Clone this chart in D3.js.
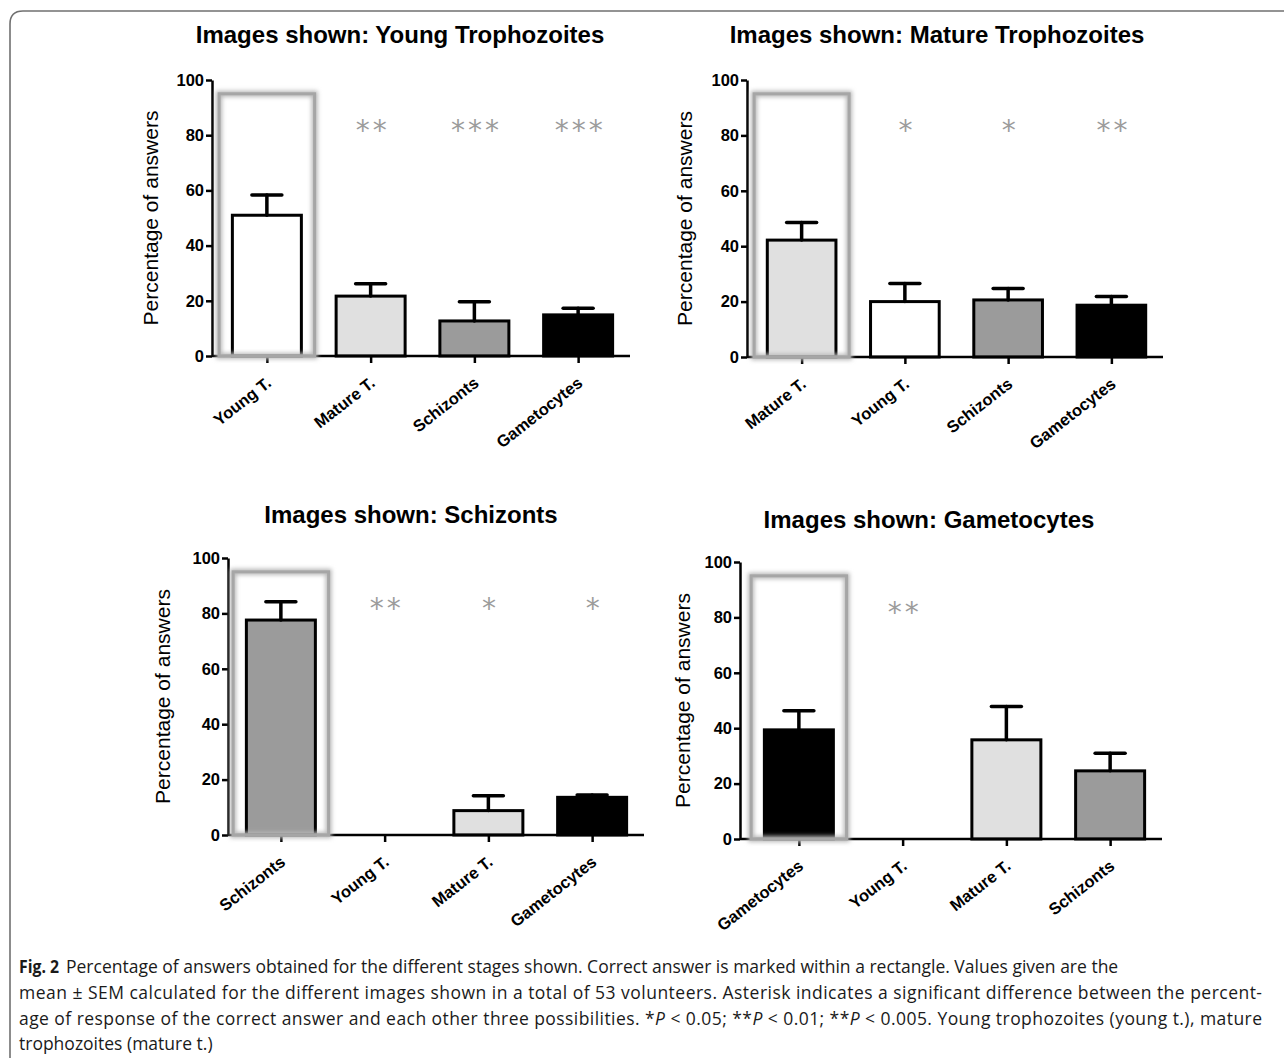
<!DOCTYPE html>
<html>
<head>
<meta charset="utf-8">
<script src="https://cdn.jsdelivr.net/npm/d3@7"></script>
<style>
  body { margin: 0; background: #fff; }
  svg { display: block; }
</style>
</head>
<body>
<svg id="fig" width="1284" height="1058"></svg>
<script>

// ---- data ----
const titles = [
    'Images shown: Young Trophozoites',
    'Images shown: Mature Trophozoites',
    'Images shown: Schizonts',
    'Images shown: Gametocytes'
];

const categoriesYoung = ['Young T.', 'Mature T.', 'Schizonts', 'Gametocytes'];
const valuesYoung     = [51, 21.7, 12.7, 14.9];
const semYoung        = [7.3, 4.5, 7.0, 2.4];
const starsYoung      = ['', '**', '***', '***'];

const categoriesMature = ['Mature T.', 'Young T.', 'Schizonts', 'Gametocytes'];
const valuesMature     = [42.2, 20, 20.6, 18.7];
const semMature        = [6.4, 6.5, 4.1, 3.1];
const starsMature      = ['', '*', '*', '**'];

const categoriesSchizonts = ['Schizonts', 'Young T.', 'Mature T.', 'Gametocytes'];
const valuesSchizonts     = [77.6, 0, 8.8, 13.6];
const semSchizonts        = [6.6, 0, 5.4, 0.8];
const starsSchizonts      = ['', '**', '*', '*'];

const categoriesGameto = ['Gametocytes', 'Young T.', 'Mature T.', 'Schizonts'];
const valuesGameto     = [39.4, 0, 35.8, 24.6];
const semGameto        = [6.9, 0, 12.0, 6.4];
const starsGameto      = ['', '**', '', ''];

const yTicks = [0, 20, 40, 60, 80, 100];
const starLevel = 83;      // height (in %) of the significance marks
const boxLevel = 95;       // top of the "correct answer" rectangle

const stageFill = {
    'Young T.': '#ffffff',
    'Mature T.': '#e0e0e0',
    'Schizonts': '#9b9b9b',
    'Gametocytes': '#000000'
};

// ---- page layout of the four panels ----
const layout = [
    { x0: 212, x1: 630,  r0: 215, top: 80,  bottom: 356, titleX: 400, titleY: 43,  labelX: 151 },
    { x0: 747, x1: 1163, r0: 750, top: 80,  bottom: 357, titleX: 937, titleY: 43,  labelX: 685 },
    { x0: 228, x1: 644,  r0: 229, top: 558, bottom: 835, titleX: 411, titleY: 523, labelX: 163 },
    { x0: 740, x1: 1162, r0: 747, top: 562, bottom: 839, titleX: 929, titleY: 528, labelX: 683 }
];

const panels = [
    { cats: categoriesYoung,     vals: valuesYoung,     sem: semYoung,     stars: starsYoung },
    { cats: categoriesMature,    vals: valuesMature,    sem: semMature,    stars: starsMature },
    { cats: categoriesSchizonts, vals: valuesSchizonts, sem: semSchizonts, stars: starsSchizonts },
    { cats: categoriesGameto,    vals: valuesGameto,    sem: semGameto,    stars: starsGameto }
];

const svg = d3.select('#fig');

// soft glow used for the grey rectangles
const defs = svg.append('defs');
defs.append('filter').attr('id', 'glow')
    .attr('x', '-20%').attr('y', '-20%').attr('width', '140%').attr('height', '140%')
    .append('feGaussianBlur').attr('stdDeviation', 2.2);

// figure frame (top + left, rounded corner)
svg.append('path')
    .attr('d', 'M10,1058 V24 Q10,11 23,11 H1284')
    .attr('fill', 'none')
    .attr('stroke', '#707070')
    .attr('stroke-width', 1.6);

panels.forEach( (p, i) => drawPanel( p, layout[i], titles[i] ) );

function drawPanel( p, L, title ) {

    const g = svg.append('g');
    const font = 'Liberation Sans, Arial, sans-serif';

    const x = d3.scalePoint()
        .domain( p.cats )
        .range([ L.r0, L.x1 ])
        .padding( 0.5 );
    const step = x.step();
    const barW = step * 0.665;
    const boxW = step * 0.92;

    const y = d3.scaleLinear()
        .domain([ 0, 100 ])
        .range([ L.bottom, L.top ]);

    // title
    g.append('text')
        .attr('x', L.titleX).attr('y', L.titleY)
        .attr('text-anchor', 'middle')
        .attr('font-family', font)
        .attr('font-weight', 'bold')
        .attr('font-size', 24)
        .text( title );

    // y label
    g.append('text')
        .attr('transform', `translate(${L.labelX},${(L.top + L.bottom) / 2}) rotate(-90)`)
        .attr('text-anchor', 'middle')
        .attr('dy', '0.35em')
        .attr('font-family', font)
        .attr('font-size', 21)
        .text('Percentage of answers');

    const idx = d3.range( p.cats.length );

    // bars
    g.selectAll('rect.bar')
        .data( idx.filter( d => p.vals[d] > 0 ) )
        .join('rect')
        .attr('class', 'bar')
        .attr('x', d => x( p.cats[d] ) - barW / 2)
        .attr('y', d => y( p.vals[d] ))
        .attr('width', barW)
        .attr('height', d => y(0) - y( p.vals[d] ))
        .attr('fill', d => stageFill[ p.cats[d] ])
        .attr('stroke', '#000')
        .attr('stroke-width', 3);

    // error bars (upper half only)
    const err = g.selectAll('g.err')
        .data( idx.filter( d => p.vals[d] > 0 ) )
        .join('g')
        .attr('class', 'err')
        .attr('stroke', '#000')
        .attr('stroke-width', 3.5)
        .attr('stroke-linecap', 'round');
    err.append('line')
        .attr('x1', d => x( p.cats[d] )).attr('x2', d => x( p.cats[d] ))
        .attr('y1', d => y( p.vals[d] )).attr('y2', d => y( p.vals[d] + p.sem[d] ));
    err.append('line')
        .attr('x1', d => x( p.cats[d] ) - 15).attr('x2', d => x( p.cats[d] ) + 15)
        .attr('y1', d => y( p.vals[d] + p.sem[d] )).attr('y2', d => y( p.vals[d] + p.sem[d] ));

    // significance stars
    g.selectAll('text.star')
        .data( idx.filter( d => p.stars[d] ) )
        .join('text')
        .attr('class', 'star')
        .attr('x', d => x( p.cats[d] ) + 2)
        .attr('y', y( starLevel ) + 13)
        .attr('text-anchor', 'middle')
        .attr('font-family', 'DejaVu Sans, sans-serif')
        .attr('font-size', 28)
        .attr('letter-spacing', 3)
        .attr('fill', '#9c9c9c')
        .text( d => p.stars[d] );

    // y axis
    const ya = g.append('g')
        .attr('transform', `translate(${L.x0},0)`)
        .call( d3.axisLeft( y ).tickValues( yTicks ).tickSize( 6 ).tickSizeOuter( 0 ).tickPadding( 2 ) );
    ya.select('.domain').attr('stroke-width', 2.5);
    ya.selectAll('.tick line').attr('stroke-width', 2.5);
    ya.selectAll('.tick text')
        .attr('font-family', font)
        .attr('font-weight', 'bold')
        .attr('font-size', 16.5)
        .attr('fill', '#000');

    // x axis
    const xa = g.append('g')
        .attr('transform', `translate(0,${L.bottom})`)
        .call( d3.axisBottom( x ).tickSize( 7 ).tickSizeOuter( 0 ) );
    xa.select('.domain').remove();
    xa.append('line')
        .attr('x1', L.x0).attr('x2', L.x1)
        .attr('stroke', '#000')
        .attr('stroke-width', 2.5);
    xa.selectAll('.tick line').attr('stroke-width', 2.5);
    xa.selectAll('.tick text')
        .attr('x', 0).attr('y', 0).attr('dy', 0)
        .attr('transform', 'translate(5,29) rotate(-38)')
        .attr('text-anchor', 'end')
        .attr('font-family', font)
        .attr('font-weight', 'bold')
        .attr('font-size', 16.5)
        .attr('fill', '#000');

    // rectangle marking the correct answer (first category)
    const cx = x( p.cats[0] );
    const box = g.append('g');
    box.append('rect')
        .attr('x', cx - boxW / 2).attr('y', y( boxLevel ))
        .attr('width', boxW).attr('height', y(0) - y( boxLevel ))
        .attr('fill', 'none')
        .attr('stroke', '#b8b8b8')
        .attr('stroke-width', 6)
        .attr('filter', 'url(#glow)');
    box.append('rect')
        .attr('x', cx - boxW / 2).attr('y', y( boxLevel ))
        .attr('width', boxW).attr('height', y(0) - y( boxLevel ))
        .attr('fill', 'none')
        .attr('stroke', '#a6a6a6')
        .attr('stroke-width', 3);
}

// ---- caption ----
const captionFont = 'Open Sans, Noto Sans, sans-serif';
const cap = svg.append('g')
    .attr('font-family', captionFont)
    .attr('font-size', 17.5)
    .attr('fill', '#1a1a1a');

cap.append('text').attr('x', 19).attr('y', 973)
    .attr('font-weight', 'bold')
    .attr('font-size', 18.5)
    .attr('textLength', 40).attr('lengthAdjust', 'spacingAndGlyphs')
    .text('Fig. 2');

cap.append('text').attr('x', 66).attr('y', 973)
    .text('Percentage of answers obtained for the different stages shown. Correct answer is marked within a rectangle. Values given are the');

cap.append('text').attr('x', 19).attr('y', 999)
    .attr('textLength', 1243).attr('lengthAdjust', 'spacing')
    .text('mean \u00b1 SEM calculated for the different images shown in a total of 53 volunteers. Asterisk indicates a significant difference between the percent-');

const l3 = cap.append('text').attr('x', 19).attr('y', 1025)
    .attr('textLength', 1243).attr('lengthAdjust', 'spacing');
l3.append('tspan').text('age of response of the correct answer and each other three possibilities. *');
l3.append('tspan').attr('font-style', 'italic').text('P');
l3.append('tspan').text(' < 0.05; **');
l3.append('tspan').attr('font-style', 'italic').text('P');
l3.append('tspan').text(' < 0.01; **');
l3.append('tspan').attr('font-style', 'italic').text('P');
l3.append('tspan').text(' < 0.005. Young trophozoites (young t.), mature');

cap.append('text').attr('x', 19).attr('y', 1050)
    .text('trophozoites (mature t.)');

</script>
</body>
</html>
